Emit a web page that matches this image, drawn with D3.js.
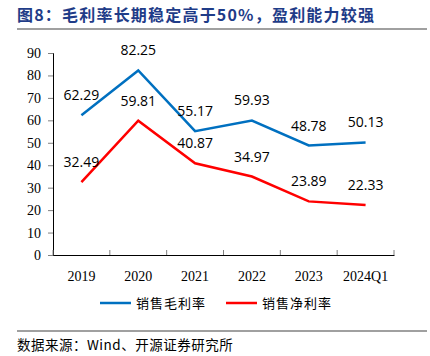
<!DOCTYPE html>
<html><head><meta charset="utf-8">
<script src="https://cdn.jsdelivr.net/npm/d3@7"></script>
<style>body{margin:0;background:#fff}svg{display:block}</style>
</head><body>
<svg id="c" width="430" height="356"></svg>
<script>
const categories = ["2019","2020","2021","2022","2023","2024Q1"];
const grossMargin = [62.29, 82.25, 55.17, 59.93, 48.78, 50.13];
const netMargin = [32.49, 59.81, 40.87, 34.97, 23.89, 22.33];
const yTicks = [0,10,20,30,40,50,60,70,80,90];
const seriesNames = ["销售毛利率","销售净利率"];
const colors = ["#0070C0","#FF0000"];

const svg = d3.select("#c");
const x = d3.scaleBand().domain(categories).range([53, 394]);
const y = d3.scaleLinear().domain([0, 90]).range([255, 53]);

// title
svg.append("text").attr("x", 17).attr("y", 21)
  .attr("font-family", "Noto Sans CJK SC").attr("font-weight", "bold")
  .attr("font-size", 16).attr("letter-spacing", 1.2).attr("fill", "#1F3C88")
  .text("图8：毛利率长期稳定高于50%，盈利能力较强");
svg.append("line").attr("x1", 17).attr("x2", 427).attr("y1", 29).attr("y2", 29)
  .attr("stroke", "#808080").attr("stroke-width", 1.5);

// y axis
const yAx = svg.append("g").attr("transform", "translate(53,0)")
  .call(d3.axisLeft(y).tickValues(yTicks).tickSize(5).tickPadding(7));
yAx.select(".domain").attr("stroke", "#000");
yAx.selectAll(".tick line").attr("stroke", "#808080");
yAx.selectAll("text").attr("font-family", "Liberation Serif").attr("font-size", 14).attr("fill", "#000");

// x axis
const xAx = svg.append("g").attr("transform", "translate(0,255)")
  .call(d3.axisBottom(x).tickSize(0).tickPadding(16));
xAx.select(".domain").attr("stroke", "#000");
xAx.selectAll("text").attr("font-family", "Liberation Serif").attr("font-size", 14).attr("fill", "#000");
const bounds = [x.range()[0]].concat(categories.map(c => x(c) + x.bandwidth()));
svg.append("g").selectAll("line").data(bounds).join("line")
  .attr("x1", d => d).attr("x2", d => d).attr("y1", 255).attr("y2", 250)
  .attr("stroke", "#808080");

const series = [grossMargin, netMargin];
const line = d3.line().x((d, i) => x(categories[i]) + x.bandwidth() / 2).y(d => y(d));
series.forEach((s, k) => {
  svg.append("path").datum(s).attr("d", line).attr("fill", "none")
    .attr("stroke", colors[k]).attr("stroke-width", 2.5);
  svg.append("g").selectAll("text").data(s).join("text")
    .attr("x", (d, i) => x(categories[i]) + x.bandwidth() / 2)
    .attr("y", d => y(d) - 15)
    .attr("text-anchor", "middle")
    .attr("font-family", "Open Sans").attr("font-size", 14).attr("fill", "#000")
    .text(d => d.toFixed(2));
});

// legend
const lx = [100, 226];
seriesNames.forEach((n, k) => {
  svg.append("line").attr("x1", lx[k]).attr("x2", lx[k] + 31).attr("y1", 303).attr("y2", 303)
    .attr("stroke", colors[k]).attr("stroke-width", 2.5);
  svg.append("text").attr("x", lx[k] + 36).attr("y", 308)
    .attr("font-family", "Noto Sans CJK SC").attr("font-size", 13).attr("letter-spacing", 1)
    .attr("fill", "#000").text(n);
});

svg.append("line").attr("x1", 17).attr("x2", 427).attr("y1", 331).attr("y2", 331)
  .attr("stroke", "#808080").attr("stroke-width", 1.5);
svg.append("text").attr("x", 17).attr("y", 350)
  .attr("font-family", "Noto Sans CJK SC").attr("font-size", 13.5).attr("letter-spacing", 0.5)
  .attr("fill", "#000").text("数据来源：Wind、开源证券研究所");
</script>
</body></html>
